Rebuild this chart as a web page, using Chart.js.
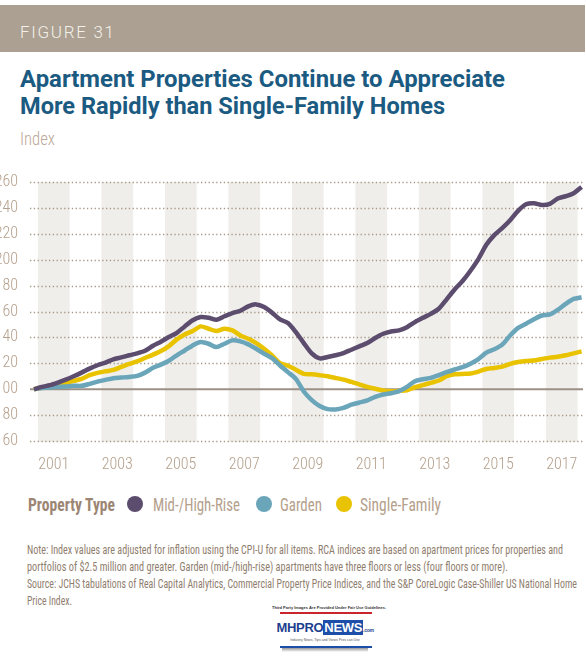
<!DOCTYPE html>
<html><head><meta charset="utf-8">
<script src="https://cdn.jsdelivr.net/npm/chart.js@4.4.1/dist/chart.umd.min.js"></script>
<style>
html,body{margin:0;padding:0;background:#fff;}
body{width:586px;height:660px;position:relative;overflow:hidden;font-family:'Roboto Condensed',Roboto,sans-serif;font-stretch:condensed;}
.fit{position:absolute;display:inline-block;white-space:nowrap;transform-origin:0 0;}
#hdr{position:absolute;left:0;top:5px;width:585px;height:47px;background:#aba091;}
#fig{left:20px;top:22px;color:#f4f0ea;font:300 17px Roboto,sans-serif;letter-spacing:1.7px;}
.title{left:20px;font:700 23px Roboto,sans-serif;color:#1b5a81;}
#ylab{left:20px;top:128px;font:300 18px Roboto,sans-serif;font-stretch:condensed;color:#bba897;}
#chartbox{position:absolute;left:0;top:170px;width:586px;height:311px;}
.lg{top:494px;font:400 18px Roboto,sans-serif;font-stretch:condensed;color:#b5a08c;}
.lgb{font-weight:700;color:#9c8673;}
.dot{position:absolute;top:496px;width:16px;height:16px;border-radius:50%;}
.note{left:27px;font:400 12px Roboto,sans-serif;font-stretch:condensed;color:#8f7e6e;}
#logo{position:absolute;left:272px;top:605px;width:106px;height:50px;text-align:center;font-family:'Liberation Sans',sans-serif;}
#logo .fair{font-size:4px;line-height:5px;color:#333;font-weight:700;white-space:nowrap;}
#logo .red{height:2px;background:#c8262c;margin:2px 6px 0 8px;}
#logo .mh{font:900 13px/15px 'Liberation Sans',sans-serif;color:#1d3f8f;margin-top:6px;letter-spacing:-0.3px;}
#logo .mh i{font-style:normal;background:#1d4fa8;color:#fff;padding:0 1px;}
#logo .mh small{font-size:5px;color:#1d3f8f;}
#logo .tag{font-size:3.5px;line-height:5px;color:#555;white-space:nowrap;}
#logo .blue{height:2px;background:#1d4fa8;margin:3px 6px 0 8px;}
#logo .sh{height:4px;margin:0 10px;background:linear-gradient(#999,#fff);}
</style></head>
<body>
<div id="hdr"></div>
<span class="fit" id="fig">FIGURE 31</span>
<span class="fit title" id="t1" style="top:66px">Apartment Properties Continue to Appreciate</span>
<span class="fit title" id="t2" style="top:93px">More Rapidly than Single-Family Homes</span>
<span class="fit" id="ylab">Index</span>
<div id="chartbox"><canvas id="c"></canvas></div>
<div id="legend"></div>
<span class="fit note" id="n1" style="top:543px">Note: Index values are adjusted for inflation using the CPI-U for all items. RCA indices are based on apartment prices for properties and</span>
<span class="fit note" id="n2" style="top:560px">portfolios of $2.5 million and greater. Garden (mid-/high-rise) apartments have three floors or less (four floors or more).</span>
<span class="fit note" id="n3" style="top:577px">Source: JCHS tabulations of Real Capital Analytics, Commercial Property Price Indices, and the S&amp;P CoreLogic Case-Shiller US National Home</span>
<span class="fit note" id="n4" style="top:594px">Price Index.</span>
<div id="logo">
  <div class="fair">Third Party Images Are Provided Under Fair Use Guidelines.</div>
  <div class="red"></div>
  <div class="mh">MHPRO<i>NEWS</i><small>.com</small></div>
  <div class="tag">Industry News, Tips and Views Pros can Use</div>
  <div class="blue"></div>
  <div class="sh"></div>
</div>
<script>
// ---- data ----
const quarters = [];
for (let yr = 2000; yr <= 2018; yr++) for (let q = 1; q <= 4; q++) {
  if ((yr === 2000 && q < 4) || (yr === 2018 && q > 1)) continue;
  quarters.push(yr + 'Q' + q);
}
const seriesNames = ['Mid-/High-Rise', 'Garden', 'Single-Family'];
const midHighRise = [
  100, 101.8, 103.1, 105.1, 107.4, 110, 112.8, 115.9, 118.5, 120.5, 123.1, 124.6, 126.2, 127.7, 129.7, 133.6, 136.7, 140.3, 143.5,
  148.5, 153.2, 155.7, 155.2, 153.7, 156.3, 158.8, 160.6, 164, 165.5, 163.5, 159.1, 153.9, 151.1, 144.1, 135.6, 127.6, 123.8,
  124.9, 126.2, 127.9, 130.5, 133.1, 135.6, 139.5, 142.8, 144.6, 145.4, 147.9, 151.8, 155.1, 158.2, 162.1, 169.4, 177, 183.5,
  191.5, 200.5, 211.5, 219, 224.4, 230.5, 237.7, 242.8, 243.6, 242.3, 243.1, 247.2, 249, 251.3, 256.2
];
const garden = [
  100, 100.9, 101.4, 101.8, 102.1, 102.6, 102.6, 104.1, 105.9, 107.2, 108.5, 109, 109.5, 110.3, 112.8, 116.5, 119, 122, 126.2,
  129.9, 133.8, 136.4, 135.1, 132.5, 135.1, 137.7, 136.9, 134.6, 131.2, 127.4, 124, 118.3, 113.2, 108, 98.2, 91.5, 87,
  84.6, 84.4, 85.6, 88, 89.7, 91.3, 94.1, 95.9, 96.9, 98.5, 101.8, 106.2, 107.7, 108.7, 110.8, 113.1, 115.2, 117,
  119.7, 123.3, 128.2, 130.8, 134.4, 141.5, 147.4, 150.5, 154.1, 156.9, 157.7, 161.3, 165.9, 169.7, 171
];
const singleFamily = [
  100, 101.3, 102.3, 103.6, 104.9, 106.4, 108, 110.8, 112.6, 113.8, 114.9, 117.2, 119.5, 121.5, 124.1, 126.7, 129.5, 133.3, 138.5,
  142.3, 144.9, 148.5, 146.7, 144.9, 146.7, 145.4, 141.5, 139, 135.6, 131.2, 126.1, 120.1, 118.1, 115, 111.9, 111.5, 110.8,
  110, 108.7, 107.4, 105.6, 103.8, 101.8, 100.3, 99, 98.5, 98.7, 99.2, 101.5, 103.1, 104.9, 106.7, 110, 111.5, 111.8,
  112.1, 113.6, 115.6, 116.4, 117.4, 119.5, 121, 121.8, 122.1, 123.3, 124.4, 125.1, 126.2, 127.7, 129.2
];
const xTickYears = [2001, 2003, 2005, 2007, 2009, 2011, 2013, 2015, 2017];
const shadedYears = [2001, 2003, 2005, 2007, 2009, 2011, 2013, 2015, 2017];
const yTickValues = [60, 80, 100, 120, 140, 160, 180, 200, 220, 240, 260];
const baseline = 100;
const legendTitle = 'Property Type';
const colors = ['#5c4c6d', '#6aa5ba', '#e9c300'];

// ---- helpers ----
function quarterToX(qs) { const yr = +qs.slice(0, 4), q = +qs.slice(5); return yr + (q - 1) * 0.25 + 0.125; }
const toPoints = vals => vals.map((v, i) => ({ x: quarterToX(quarters[i]), y: v }));

const backdrop = {
  id: 'backdrop',
  beforeDatasetsDraw(chart) {
    const { ctx, chartArea: a, scales: { x, y } } = chart;
    ctx.save();
    ctx.fillStyle = '#efeeeb';
    shadedYears.forEach(yr => {
      const l = x.getPixelForValue(yr), r = x.getPixelForValue(yr + 1);
      ctx.fillRect(l, a.top, r - l, a.bottom - a.top + 1);
    });
    ctx.strokeStyle = '#a89785';
    ctx.lineWidth = 1.3;
    ctx.setLineDash([1.3, 2.5]);
    yTickValues.forEach(v => {
      if (v === baseline) return;
      const py = Math.round(y.getPixelForValue(v)) + 0.5;
      ctx.beginPath(); ctx.moveTo(a.left, py); ctx.lineTo(a.right, py); ctx.stroke();
    });
    ctx.setLineDash([]);
    ctx.strokeStyle = '#9d9086';
    ctx.lineWidth = 2;
    const by = y.getPixelForValue(baseline);
    ctx.beginPath(); ctx.moveTo(a.left, by); ctx.lineTo(a.right, by); ctx.stroke();
    ctx.restore();
  }
};

const tickFont = { family: "'Roboto Condensed','Open Sans',Roboto,sans-serif", size: 16, weight: '300 condensed' };
const chart = new Chart(document.getElementById('c'), {
  type: 'line',
  data: {
    datasets: [midHighRise, garden, singleFamily].map((vals, i) => ({
      label: seriesNames[i], data: toPoints(vals), borderColor: colors[i], backgroundColor: colors[i],
      borderWidth: 4.5, pointRadius: 0, tension: 0.25, borderJoinStyle: 'round', fill: false
    }))
  },
  options: {
    responsive: true, maintainAspectRatio: false, animation: false, devicePixelRatio: 1,
    layout: { autoPadding: false, padding: { top: 12, right: 3, left: 0, bottom: 0 } },
    plugins: { legend: { display: false }, tooltip: { enabled: false } },
    scales: {
      x: {
        type: 'linear', min: 2000.75, max: 2018.17,
        grid: { display: false, drawTicks: false }, border: { display: false },
        afterBuildTicks: s => { s.ticks = xTickYears.map(yr => ({ value: yr + 0.5 })); },
        afterFit: s => { s.height = 40; s.paddingLeft = 0; s.paddingRight = 0; },
        ticks: { autoSkip: false, maxRotation: 0, padding: 14, color: '#b5a08c', font: tickFont,
          callback: v => String(Math.floor(v)) }
      },
      y: {
        min: 60, max: 260,
        grid: { display: false, drawTicks: false }, border: { display: false },
        afterBuildTicks: s => { s.ticks = yTickValues.map(v => ({ value: v })); },
        afterFit: s => { s.width = 30; s.paddingTop = 0; s.paddingBottom = 0; },
        ticks: { padding: 12, color: '#b5a08c', font: tickFont }
      }
    }
  },
  plugins: [backdrop]
});

// ---- text fitting (emulates the condensed typeface of the original) ----
function fitW(el, w) { const nat = el.getBoundingClientRect().width; el.style.transform = 'scaleX(' + (w / nat) + ')'; }

// HTML legend built from the chart's datasets
const lgSlots = [{ dot: 127, tx: 153, w: 87 }, { dot: 256, tx: 280, w: 42 }, { dot: 336, tx: 360, w: 81 }];
const lg = document.getElementById('legend');
const b = document.createElement('span'); b.className = 'fit lg lgb'; b.textContent = legendTitle;
b.style.left = '28px'; lg.appendChild(b); fitW(b, 87);
chart.data.datasets.forEach((ds, i) => {
  const d = document.createElement('span'); d.className = 'dot'; d.style.background = ds.borderColor;
  d.style.left = lgSlots[i].dot + 'px'; lg.appendChild(d);
  const t = document.createElement('span'); t.className = 'fit lg'; t.textContent = ds.label;
  t.style.left = lgSlots[i].tx + 'px'; lg.appendChild(t); fitW(t, lgSlots[i].w);
});
fitW(document.getElementById('t1'), 485);
fitW(document.getElementById('t2'), 425);
fitW(document.getElementById('ylab'), 35);
fitW(document.getElementById('n1'), 536);
fitW(document.getElementById('n2'), 481);
fitW(document.getElementById('n3'), 550);
fitW(document.getElementById('n4'), 45);
</script>
</body></html>
